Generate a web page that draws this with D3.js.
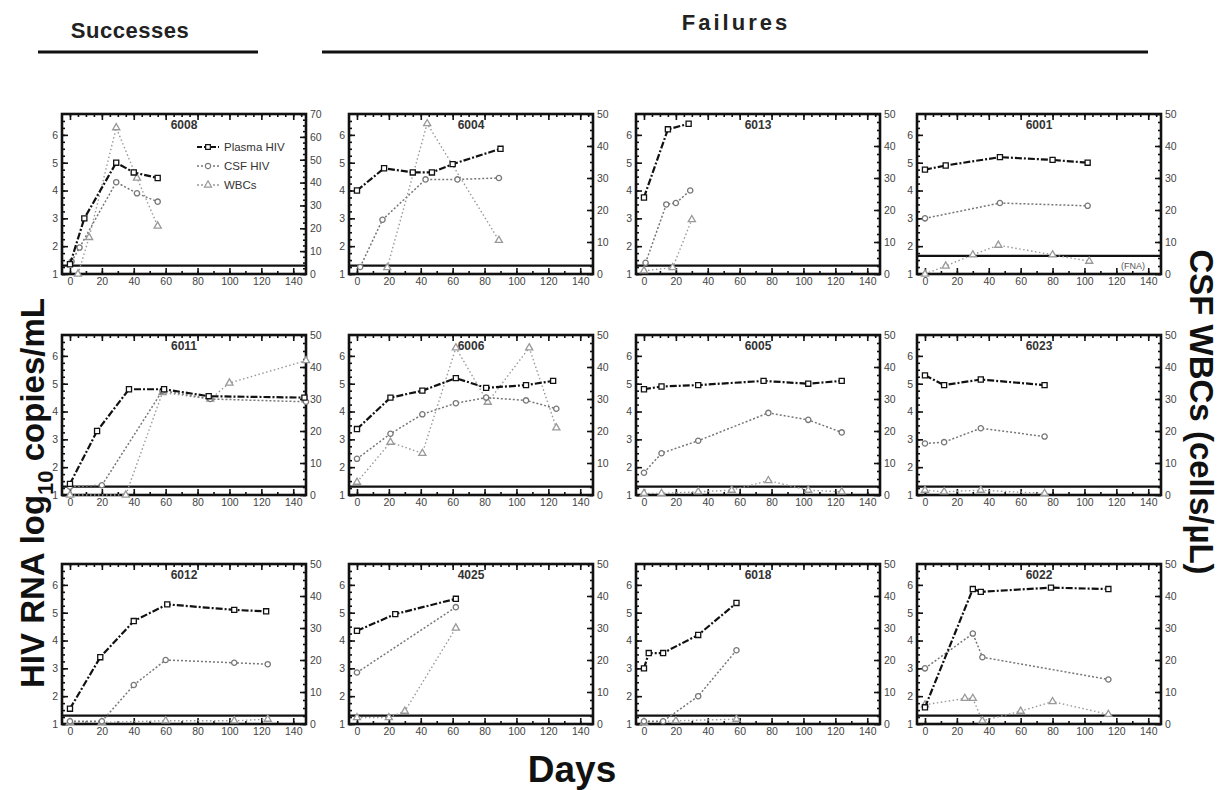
<!DOCTYPE html>
<html>
<head>
<meta charset="utf-8">
<script src="https://cdn.jsdelivr.net/npm/d3@7"></script>
<style>
  body { margin: 0; background: #fff; }
  svg text { font-family: "Liberation Sans", Arial, sans-serif; }
</style>
</head>
<body>
<svg id="chart" width="1222" height="790"></svg>
<script>
// ------------------------------------
// Data (day, value)
// plasma / csf on log10 copies/mL, wbc on cells/uL
// ------------------------------------
const xTicks = [0, 20, 40, 60, 80, 100, 120, 140];
const leftTicks = [1, 2, 3, 4, 5, 6];
const rightTicks50 = [0, 10, 20, 30, 40, 50];
const rightTicks70 = [0, 10, 20, 30, 40, 50, 60, 70];

const plasma6008 = [[0,1.35],[9,3.0],[29,5.0],[40,4.65],[55,4.45]];
const csf6008    = [[1,1.45],[6,1.95],[29,4.3],[42,3.9],[55,3.6]];
const wbc6008    = [[5,0],[12,16],[29,64],[42,42],[55,21]];

const plasma6004 = [[0,4.0],[17,4.8],[35,4.65],[47,4.65],[60,4.95],[90,5.5]];
const csf6004    = [[2,1.25],[16,2.95],[43,4.4],[63,4.4],[89,4.45]];
const wbc6004    = [[19,2],[44,47],[89,10.5]];

const plasma6013 = [[0,3.75],[15,6.2],[28,6.4]];
const csf6013    = [[1,1.4],[14,3.5],[20,3.55],[29,4.0]];
const wbc6013    = [[0,1],[18,2],[30,17]];

const plasma6001 = [[0,4.75],[13,4.9],[47,5.2],[80,5.1],[102,5.0]];
const csf6001    = [[0,3.0],[47,3.55],[102,3.45]];
const wbc6001    = [[0,0],[13,2.5],[30,6],[46,9],[80,6],[103,4]];

const plasma6011 = [[0,1.4],[17,3.3],[37,4.8],[59,4.8],[87,4.55],[147,4.5]];
const csf6011    = [[0,1.3],[20,1.35],[58,4.75],[88,4.45],[148,4.35]];
const wbc6011    = [[0,0],[35,0],[58,32],[88,30],[100,35],[148,42]];

const plasma6006 = [[0,3.37],[21,4.5],[41,4.75],[62,5.2],[81,4.85],[106,4.95],[123,5.1]];
const csf6006    = [[0,2.3],[21,3.2],[41,3.9],[62,4.3],[81,4.5],[106,4.4],[125,4.1]];
const wbc6006    = [[0,4],[21,16.5],[41,13],[62,46],[82,29],[108,46],[125,21]];

const plasma6005 = [[0,4.8],[11,4.9],[34,4.95],[75,5.1],[103,5.0],[124,5.1]];
const csf6005    = [[0,1.8],[11,2.5],[34,2.95],[78,3.95],[103,3.7],[124,3.25]];
const wbc6005    = [[0,0.5],[11,0.5],[34,1],[55,1.5],[78,4.5],[103,1.5],[124,1]];

const plasma6023 = [[0,5.3],[12,4.95],[35,5.15],[75,4.95]];
const csf6023    = [[0,2.85],[12,2.9],[35,3.4],[75,3.1]];
const wbc6023    = [[0,1.5],[12,1],[35,1.5],[75,0.5]];

const plasma6012 = [[0,1.55],[19,3.4],[40,4.7],[61,5.3],[103,5.1],[123,5.05]];
const csf6012    = [[0,1.1],[20,1.1],[40,2.4],[60,3.3],[103,3.2],[124,3.15]];
const wbc6012    = [[0,0.5],[20,0.5],[60,1],[103,1],[124,1.5]];

const plasma4025 = [[0,4.35],[24,4.95],[62,5.5]];
const csf4025    = [[0,2.85],[62,5.2]];
const wbc4025    = [[0,2],[20,2],[30,4],[62,30]];

const plasma6018 = [[0,3.0],[3,3.55],[12,3.55],[34,4.2],[58,5.35]];
const csf6018    = [[0,1.1],[12,1.1],[34,2.0],[58,3.65]];
const wbc6018    = [[0,0.5],[20,1],[58,1.5]];

const plasma6022 = [[0,1.6],[30,5.85],[35,5.75],[79,5.9],[115,5.85]];
const csf6022    = [[0,3.0],[30,4.25],[36,3.4],[115,2.6]];
const wbc6022    = [[0,6],[25,8],[30,8],[36,1],[60,4],[80,7],[115,3]];

const panelIds = ["6008","6004","6013","6001","6011","6006","6005","6023","6012","4025","6018","6022"];
const panelSeries = [
  [plasma6008, csf6008, wbc6008], [plasma6004, csf6004, wbc6004],
  [plasma6013, csf6013, wbc6013], [plasma6001, csf6001, wbc6001],
  [plasma6011, csf6011, wbc6011], [plasma6006, csf6006, wbc6006],
  [plasma6005, csf6005, wbc6005], [plasma6023, csf6023, wbc6023],
  [plasma6012, csf6012, wbc6012], [plasma4025, csf4025, wbc4025],
  [plasma6018, csf6018, wbc6018], [plasma6022, csf6022, wbc6022]
];
const detectionLimit = [1.3,1.3,1.3,1.65,1.3,1.3,1.3,1.3,1.3,1.3,1.3,1.3];
const legendLabels = ["Plasma HIV", "CSF HIV", "WBCs"];

// ------------------------------------
// Layout
// ------------------------------------
const svg = d3.select("#chart");
const colX = [62, 349, 636, 917];
const rowY = [114, 335, 564];
const pw = 244, ph = 160;

const styles = [
  { stroke: "#111", width: 2.2, dash: "7,2,2,2" },
  { stroke: "#777", width: 1.5, dash: "2,2" },
  { stroke: "#999", width: 1.4, dash: "1.5,2.5" }
];

// ------------------------------------
// Headers and big axis titles
// ------------------------------------
svg.append("text").attr("x", 130).attr("y", 38).attr("text-anchor", "middle")
  .attr("font-size", 22).attr("font-weight", 700).attr("letter-spacing", 0.5)
  .attr("fill", "#222").text("Successes");
svg.append("line").attr("x1", 38).attr("x2", 258).attr("y1", 52).attr("y2", 52)
  .attr("stroke", "#111").attr("stroke-width", 3);
svg.append("text").attr("x", 736).attr("y", 30).attr("text-anchor", "middle")
  .attr("font-size", 22).attr("font-weight", 700).attr("letter-spacing", 3)
  .attr("fill", "#222").text("Failures");
svg.append("line").attr("x1", 322).attr("x2", 1148).attr("y1", 52).attr("y2", 52)
  .attr("stroke", "#111").attr("stroke-width", 3);

const yTitle = svg.append("text")
  .attr("transform", "translate(44,493) rotate(-90)")
  .attr("text-anchor", "middle").attr("font-size", 33).attr("font-weight", 700).attr("fill", "#111");
yTitle.append("tspan").text("HIV RNA log");
yTitle.append("tspan").attr("font-size", 22).attr("dy", 9).text("10");
yTitle.append("tspan").attr("dy", -9).text(" copies/mL");

svg.append("text")
  .attr("transform", "translate(1190,412) rotate(90)")
  .attr("text-anchor", "middle").attr("font-size", 33).attr("font-weight", 700).attr("fill", "#111")
  .text("CSF WBCs (cells/\u00b5L)");

svg.append("text").attr("x", 572).attr("y", 782).attr("text-anchor", "middle")
  .attr("font-size", 37).attr("font-weight", 700).attr("fill", "#111").text("Days");

// ------------------------------------
// Panels
// ------------------------------------
panelIds.forEach((id, i) => {
  const left = colX[i % 4], top = rowY[Math.floor(i / 4)];
  const g = svg.append("g");
  const rTicks = i === 0 ? rightTicks70 : rightTicks50;

  const x = d3.scaleLinear().domain([-5, 148]).range([left, left + pw]);
  const yL = d3.scaleLinear().domain([1, 6.75]).range([top + ph, top]);
  const yR = d3.scaleLinear().domain([0, d3.max(rTicks)]).range([top + ph, top]);

  // minor ticks
  g.append("g").attr("transform", `translate(${left},0)`)
    .call(d3.axisLeft(yL).tickValues(d3.range(1, 6.75, 0.25)).tickSize(-3).tickFormat(""))
    .call(a => a.select(".domain").remove());
  g.append("g").attr("transform", `translate(${left + pw},0)`)
    .call(d3.axisRight(yR).tickValues(d3.range(0, d3.max(rTicks), 2.5)).tickSize(-3).tickFormat(""))
    .call(a => a.select(".domain").remove());
  g.append("g").attr("transform", `translate(0,${top})`)
    .call(d3.axisTop(x).tickValues(d3.range(0, 148, 5)).tickSize(-3).tickFormat(""))
    .call(a => a.select(".domain").remove());
  g.append("g").attr("transform", `translate(0,${top + ph})`)
    .call(d3.axisBottom(x).tickValues(d3.range(0, 148, 10)).tickSize(-3).tickFormat(""))
    .call(a => a.select(".domain").remove());

  // major axes
  g.append("g").attr("transform", `translate(${left},0)`)
    .call(d3.axisLeft(yL).tickValues(leftTicks).tickSize(-6).tickPadding(4).tickFormat(d3.format("d")))
    .call(a => a.select(".domain").remove());
  g.append("g").attr("transform", `translate(${left + pw},0)`)
    .call(d3.axisRight(yR).tickValues(rTicks).tickSize(-6).tickPadding(4))
    .call(a => a.select(".domain").remove());
  g.append("g").attr("transform", `translate(0,${top + ph})`)
    .call(d3.axisBottom(x).tickValues(xTicks).tickSize(-6).tickPadding(4))
    .call(a => a.select(".domain").remove());
  g.append("g").attr("transform", `translate(0,${top})`)
    .call(d3.axisTop(x).tickValues(xTicks).tickSize(-6).tickFormat(""))
    .call(a => a.select(".domain").remove());

  g.selectAll(".tick line").attr("stroke", "#111").attr("stroke-width", 1.6);
  g.selectAll(".tick text").attr("font-size", 10.5).attr("fill", "#444");

  // frame
  g.append("rect").attr("x", left).attr("y", top).attr("width", pw).attr("height", ph)
    .attr("fill", "none").attr("stroke", "#111").attr("stroke-width", 2.6);

  // detection limit
  g.append("line").attr("x1", left).attr("x2", left + pw)
    .attr("y1", yL(detectionLimit[i])).attr("y2", yL(detectionLimit[i]))
    .attr("stroke", "#111").attr("stroke-width", 2.2);
  if (id === "6001") {
    g.append("text").attr("x", x(138)).attr("y", yL(detectionLimit[i]) + 13)
      .attr("text-anchor", "end").attr("font-size", 9).attr("fill", "#555").text("(FNA)");
  }

  g.append("text").attr("x", left + pw / 2).attr("y", top + 15).attr("text-anchor", "middle")
    .attr("font-size", 12).attr("font-weight", 700).attr("fill", "#333").text(id);

  const [plasma, csf, wbc] = panelSeries[i];
  const series = [
    { data: plasma, y: yL, s: styles[0], mark: "square" },
    { data: csf, y: yL, s: styles[1], mark: "circle" },
    { data: wbc, y: yR, s: styles[2], mark: "triangle" }
  ];

  series.slice().reverse().forEach(se => {
    const line = d3.line().x(d => x(d[0])).y(d => se.y(d[1]));
    g.append("path").datum(se.data).attr("d", line)
      .attr("fill", "none").attr("stroke", se.s.stroke)
      .attr("stroke-width", se.s.width).attr("stroke-dasharray", se.s.dash);

    const sym = se.mark === "square" ? d3.symbolSquare : se.mark === "circle" ? d3.symbolCircle : d3.symbolTriangle;
    g.selectAll(null).data(se.data).join("path")
      .attr("transform", d => `translate(${x(d[0])},${se.y(d[1])})`)
      .attr("d", d3.symbol().type(sym).size(se.mark === "square" ? 26 : 22))
      .attr("fill", "#fff").attr("stroke", se.s.stroke).attr("stroke-width", 1.3);
  });

  // legend in first panel
  if (i === 0) {
    const lg = g.append("g").attr("transform", `translate(${left + 135},${top + 33})`);
    legendLabels.forEach((lab, k) => {
      const s = styles[k];
      const yy = k * 19;
      lg.append("line").attr("x1", 0).attr("x2", 22).attr("y1", yy).attr("y2", yy)
        .attr("stroke", s.stroke).attr("stroke-width", s.width).attr("stroke-dasharray", k === 0 ? "5,2" : "2,2");
      const sym = k === 0 ? d3.symbolSquare : k === 1 ? d3.symbolCircle : d3.symbolTriangle;
      lg.append("path").attr("transform", `translate(11,${yy})`)
        .attr("d", d3.symbol().type(sym).size(22))
        .attr("fill", "#fff").attr("stroke", s.stroke).attr("stroke-width", 1.2);
      lg.append("text").attr("x", 27).attr("y", yy + 4).attr("font-size", 11.5)
        .attr("fill", "#333").text(lab);
    });
  }
});
</script>
</body>
</html>
